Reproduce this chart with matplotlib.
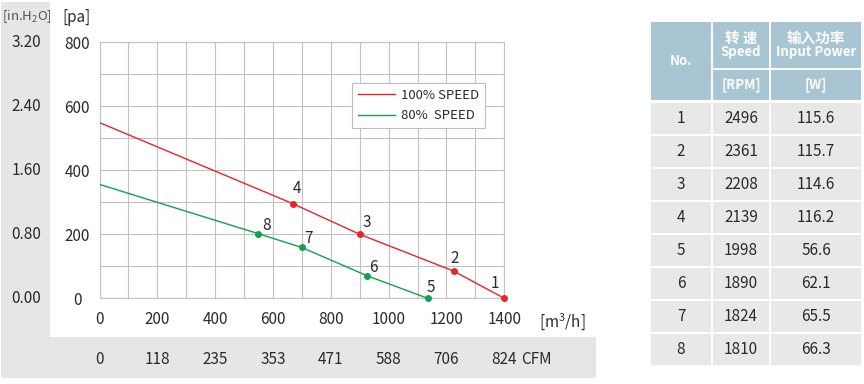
import matplotlib
matplotlib.use('Agg')
from matplotlib import pyplot as plt
from matplotlib.patches import Rectangle
from matplotlib.lines import Line2D
from matplotlib.transforms import blended_transform_factory
import numpy as np

plt.rcParams['font.family'] = ['Noto Sans CJK SC', 'DejaVu Sans']
plt.rcParams['mathtext.fontset'] = 'custom'
plt.rcParams['mathtext.rm'] = 'Noto Sans CJK SC'
plt.rcParams['mathtext.it'] = 'Noto Sans CJK SC'

# --- data ---
flow_100 = [0, 668, 900, 1225, 1400]        # m3/h
pres_100 = [549, 296, 200, 85, 0]           # pa
pt_100 = [None, '4', '3', '2', '1']

flow_80 = [0, 549, 699, 924, 1135]
pres_80 = [356, 202, 159, 71, 0]
pt_80 = [None, '8', '7', '6', '5']

pa_ticks = [0, 200, 400, 600, 800]
inh2o_labels = ['0.00', '0.80', '1.60', '2.40', '3.20']
flow_ticks = [0, 200, 400, 600, 800, 1000, 1200, 1400]
cfm_labels = ['0', '118', '235', '353', '471', '588', '706', '824']

tbl_no = ['1', '2', '3', '4', '5', '6', '7', '8']
tbl_rpm = ['2496', '2361', '2208', '2139', '1998', '1890', '1824', '1810']
tbl_watt = ['115.6', '115.7', '114.6', '116.2', '56.6', '62.1', '65.5', '66.3']

RED = '#e8232b'
GREEN = '#12a150'
GRID = '#c2c2c2'
TXT = '#2b2b2b'
PANEL = '#e6e6e6'
HEAD = '#a7c5d3'

W, H = 864, 384


def fx(x):
    return x / W


def fy(y):
    return 1 - y / H


fig = plt.figure(figsize=(W / 100, H / 100), dpi=100)

# grey side / bottom panels
fig.add_artist(Rectangle((fx(1), fy(378)), fx(50) - fx(1), fy(2) - fy(378),
                         transform=fig.transFigure, color=PANEL, lw=0, zorder=0))
fig.add_artist(Rectangle((fx(1), fy(378)), fx(596) - fx(1), fy(337) - fy(378),
                         transform=fig.transFigure, color=PANEL, lw=0, zorder=0))

ax = fig.add_axes([fx(99.5), fy(298.3), fx(504.3) - fx(99.5), fy(42.3) - fy(298.3)])
ax.set_xlim(0, 1400)
ax.set_ylim(0, 800)
ax.set_xticks(np.arange(0, 1401, 100))
ax.set_xticklabels([str(v) if v in flow_ticks else '' for v in range(0, 1401, 100)])
ax.set_yticks(np.arange(0, 801, 100))
ax.set_yticklabels([str(v) if v in pa_ticks else '' for v in range(0, 801, 100)])
ax.tick_params(length=0, labelsize=11, colors=TXT)
ax.tick_params(axis='x', pad=9)
ax.tick_params(axis='y', pad=16)
for lbl in ax.get_yticklabels():
    lbl.set_ha('center')
ax.grid(True, color=GRID, lw=0.8)
for s in ax.spines.values():
    s.set_color(GRID)
    s.set_linewidth(0.8)
ax.set_axisbelow(True)

ax.plot(flow_100, pres_100, color=RED, lw=1.0, zorder=3)
ax.plot(flow_100[1:], pres_100[1:], 'o', color=RED, ms=4, zorder=4, clip_on=False)
ax.plot(flow_80, pres_80, color=GREEN, lw=1.0, zorder=3)
ax.plot(flow_80[1:], pres_80[1:], 'o', color=GREEN, ms=4, zorder=4, clip_on=False)

offs_100 = [None, (4, 15), (7, 12), (1, 13), (-9, 15)]
offs_80 = [None, (8, 8), (7, 9), (7, 8), (3, 11)]
for xs, ys, lab, offs in [(flow_100, pres_100, pt_100, offs_100),
                          (flow_80, pres_80, pt_80, offs_80)]:
    for x, y, t, o in zip(xs, ys, lab, offs):
        if t is None:
            continue
        ax.annotate(t, (x, y), xytext=o, textcoords='offset pixels',
                    ha='center', va='center', fontsize=11, color=TXT)

# left in.H2O scale and headers
tr_y = blended_transform_factory(fig.transFigure, ax.transData)
for v, t in zip(pa_ticks, inh2o_labels):
    ax.text(fx(26.5), v, t, transform=tr_y, ha='center', va='center',
            fontsize=11, color=TXT)
fig.text(fx(26.5), fy(17), '[in.H$_2$O]', ha='center', va='center',
         fontsize=9.5, color='#555555')
fig.text(fx(76), fy(17), '[pa]', ha='center', va='center', fontsize=11, color=TXT)
fig.text(fx(562), fy(322), '[m$^3$/h]', ha='center', va='center', fontsize=11, color=TXT)

# CFM row
tr_x = blended_transform_factory(ax.transData, fig.transFigure)
for v, t in zip(flow_ticks, cfm_labels):
    ax.text(v, fy(359), t, transform=tr_x, ha='center', va='center',
            fontsize=11, color=TXT)
fig.text(fx(521), fy(359), 'CFM', ha='left', va='center', fontsize=11, color=TXT)

# legend
handles = [Line2D([], [], color=RED, lw=1.0), Line2D([], [], color=GREEN, lw=1.0)]
leg = ax.legend(handles, ['100% SPEED', '80%  SPEED'], loc='upper left',
                bbox_to_anchor=(fx(352), fy(83)), bbox_transform=fig.transFigure,
                fontsize=9.5, frameon=True, fancybox=False, framealpha=1,
                edgecolor='#bdbdbd', borderpad=0.45, borderaxespad=0,
                handlelength=2.8, handletextpad=0.45, labelspacing=0.55,
                labelcolor=TXT)
leg.get_frame().set_linewidth(0.8)

# table
cols = [(651, 711), (713, 769), (771, 861)]


def cell(x0, x1, y0, y1, color):
    fig.add_artist(Rectangle((fx(x0), fy(y1)), fx(x1) - fx(x0), fy(y0) - fy(y1),
                             transform=fig.transFigure, color=color, lw=0))


cell(cols[0][0], cols[0][1], 22, 100, HEAD)
for c in cols[1:]:
    cell(c[0], c[1], 22, 68, HEAD)
    cell(c[0], c[1], 70, 100, HEAD)


def ctext(c, y, s, **kw):
    fig.text(fx((c[0] + c[1]) / 2), fy(y), s, ha='center', va='center', **kw)


hkw = dict(color='white', fontweight='bold', fontsize=9.5)
ctext(cols[0], 61, 'No.', **hkw)
ctext(cols[1], 37.5, '转 速', color='white', fontweight='bold', fontsize=10.5)
ctext(cols[1], 52, 'Speed', **hkw)
ctext(cols[2], 37.5, '输入功率', color='white', fontweight='bold', fontsize=10.5)
ctext(cols[2], 52, 'Input Power', **hkw)
ctext(cols[1], 85, '[RPM]', **hkw)
ctext(cols[2], 85, '[W]', **hkw)

for i, row in enumerate(zip(tbl_no, tbl_rpm, tbl_watt)):
    top = 103 + 33 * i
    for c, s in zip(cols, row):
        cell(c[0], c[1], top, top + 31, '#e8e8e8')
        ctext(c, top + 15.5, s, color=TXT, fontsize=11)

fig.savefig('out.png', dpi=100)
